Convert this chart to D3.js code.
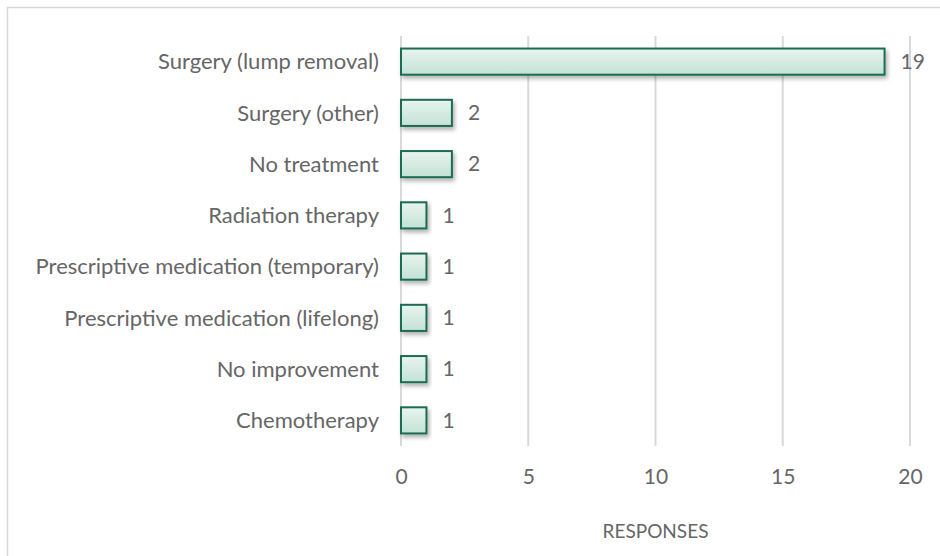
<html><head>
<meta charset="utf-8">
<script src="https://cdnjs.cloudflare.com/ajax/libs/d3/7.8.5/d3.min.js"></script>
<style>
body{
  margin: 0px;
  background: #fff;
}
text {
  font-family: Lato, "Open Sans", sans-serif;
  fill: #666;
}
.grid line {
  stroke: #d9d9d9;
  stroke-width: 2px;
}
</style>
<title>Responses</title>
</head>
<body>
<script>
var width = 940,
    height = 556;

// data
var categories = ["Surgery (lump removal)", "Surgery (other)", "No treatment", "Radiation therapy",
  "Prescriptive medication (temporary)", "Prescriptive medication (lifelong)", "No improvement", "Chemotherapy"];
var responses = [19, 2, 2, 1, 1, 1, 1, 1];
var ticks = [0, 5, 10, 15, 20];

var margin = {left: 401, right: 30, top: 36, bottom: 110};

var svg = d3.select("body").append("svg")
    .attr("width", width)
    .attr("height", height);

// outer border (chart box runs off the right and bottom)
svg.append("rect")
  .attr("x", 7.5).attr("y", 7.5)
  .attr("width", width).attr("height", height)
  .attr("fill", "none")
  .attr("stroke", "#d9d9d9")
  .attr("stroke-width", 1.5);

var x = d3.scaleLinear().domain([0, 20]).range([margin.left, 910]);
var y = d3.scaleBand().domain(categories).range([margin.top, 446]).paddingInner(0.49).paddingOuter(0.245);

var defs = svg.append("defs");
var grad = defs.append("linearGradient").attr("id", "barfill")
  .attr("x1", 0).attr("y1", 0).attr("x2", 0).attr("y2", 1);
grad.append("stop").attr("offset", "0%").attr("stop-color", "#e8f4ef");
grad.append("stop").attr("offset", "100%").attr("stop-color", "#c3e2d6");

var shadow = defs.append("filter").attr("id", "shadow")
  .attr("x", "-10%").attr("y", "-30%").attr("width", "130%").attr("height", "180%");
shadow.append("feDropShadow").attr("dx", 2).attr("dy", 3).attr("stdDeviation", 2)
  .attr("flood-color", "#000").attr("flood-opacity", 0.3);

// gridlines
svg.append("g").attr("class", "grid")
  .selectAll("line").data(ticks).enter().append("line")
  .attr("x1", function(d){ return x(d); })
  .attr("x2", function(d){ return x(d); })
  .attr("y1", margin.top)
  .attr("y2", 446);

// bars
svg.append("g").selectAll("rect").data(responses).enter().append("rect")
  .attr("x", x(0))
  .attr("y", function(d, i){ return y(categories[i]); })
  .attr("width", function(d){ return x(d) - x(0); })
  .attr("height", y.bandwidth())
  .attr("fill", "url(#barfill)")
  .attr("stroke", "#1b6c54")
  .attr("stroke-width", 2)
  .attr("filter", "url(#shadow)");

// value labels
svg.append("g").selectAll("text").data(responses).enter().append("text")
  .attr("x", function(d){ return x(d) + 16; })
  .attr("y", function(d, i){ return y(categories[i]) + y.bandwidth()/2; })
  .attr("dy", "0.35em")
  .attr("font-size", 21)
  .text(function(d){ return d; });

// category labels
svg.append("g").selectAll("text").data(categories).enter().append("text")
  .attr("x", 379)
  .attr("y", function(d){ return y(d) + y.bandwidth()/2; })
  .attr("dy", "0.35em")
  .attr("text-anchor", "end")
  .attr("font-size", 22)
  .text(function(d){ return d; });

// x axis
var xAxis = d3.axisBottom(x).tickValues(ticks).tickSize(0).tickPadding(23);
var gx = svg.append("g").attr("transform", "translate(0,446)").call(xAxis);
gx.select(".domain").remove();
gx.selectAll("text").attr("font-size", 21).style("font-family", "Lato, sans-serif").attr("fill", "#666");

svg.append("text")
  .attr("x", (x(0) + x(20)) / 2)
  .attr("y", 538)
  .attr("text-anchor", "middle")
  .attr("font-size", 19)
  .text("RESPONSES");
</script>
</body></html>
